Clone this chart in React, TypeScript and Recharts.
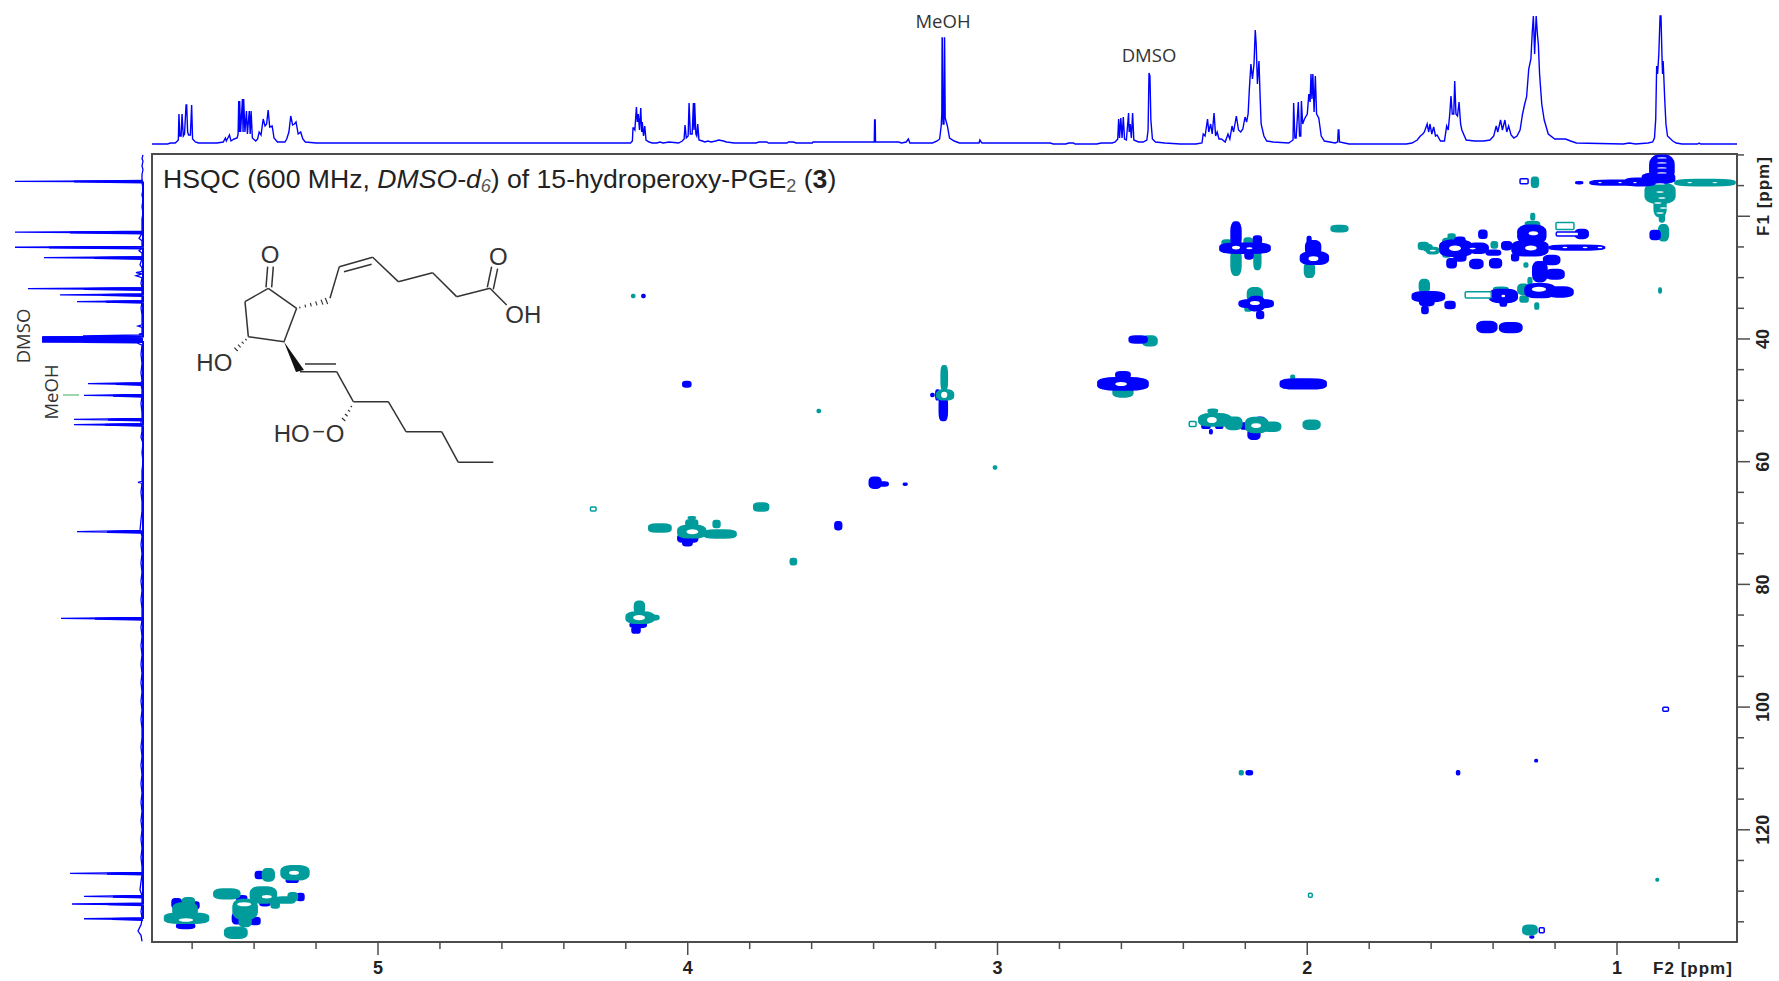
// HSQC spectrum of 15-hydroperoxy-PGE2 with 1H trace on top and 13C trace on the left
import { Line, LineChart, ReferenceArea, Scatter, ScatterChart, XAxis, YAxis } from 'recharts'

const WIDTH = 1779
const HEIGHT = 981
const F2_DOMAIN: [number, number] = [0.6126, 5.7296]
const F1_DOMAIN: [number, number] = [9.85, 138.29]
const PLOT = { left: 152, top: 154, right: 1737, bottom: 942 }
const PX_F2 = (PLOT.right - PLOT.left) / (F2_DOMAIN[1] - F2_DOMAIN[0])
const PX_F1 = (PLOT.bottom - PLOT.top) / (F1_DOMAIN[1] - F1_DOMAIN[0])

const BLUE = '#0000ff'
const TEAL = '#009c9c'

const f2Ticks = [5.6, 5.4, 5.2, 5, 4.8, 4.6, 4.4, 4.2, 4, 3.8, 3.6, 3.4, 3.2, 3, 2.8, 2.6, 2.4, 2.2, 2, 1.8, 1.6, 1.4, 1.2, 1, 0.8]
const f2Labels = [5, 4, 3, 2, 1]
const f1Ticks = [10, 15, 20, 25, 30, 35, 40, 45, 50, 55, 60, 65, 70, 75, 80, 85, 90, 95, 100, 105, 110, 115, 120, 125, 130, 135]
const f1Major = [20, 40, 60, 80, 100, 120]
const f1Labels = [40, 60, 80, 100, 120]

// 1H trace: [ppm, height]
const protonTrace: [number, number][] = [
  [5.73, 0], [5.68, 0], [5.67, 1], [5.655, 1], [5.648, 3], [5.645, 4], [5.643, 30], [5.64, 8], [5.636, 8], [5.633, 30], [5.629, 8], [5.625, 10],
  [5.62, 39], [5.618, 39], [5.615, 12], [5.612, 9], [5.606, 9], [5.602, 39], [5.599, 5], [5.59, 2], [5.58, 1], [5.52, 1], [5.5, 2], [5.493, 6], [5.49, 3],
  [5.48, 9], [5.475, 3], [5.465, 5], [5.455, 6], [5.452, 10], [5.45, 43], [5.448, 12], [5.447, 43], [5.444, 12], [5.438, 45], [5.436, 12], [5.434, 45], [5.43, 12],
  [5.425, 33], [5.422, 10], [5.416, 33], [5.413, 10], [5.41, 33], [5.406, 6], [5.395, 3], [5.389, 5], [5.384, 12], [5.378, 9], [5.371, 25], [5.365, 18],
  [5.36, 20], [5.355, 34], [5.35, 17], [5.342, 18], [5.336, 6], [5.325, 2], [5.301, 2], [5.295, 5], [5.288, 12], [5.282, 28], [5.276, 19], [5.27, 20], [5.265, 22],
  [5.258, 10], [5.25, 12], [5.243, 5], [5.235, 2], [5.2, 1], [4.5, 1], [4.24, 1], [4.185, 1], [4.179, 3], [4.177, 16], [4.175, 16], [4.171, 14], [4.166, 37], [4.163, 22],
  [4.16, 30], [4.156, 14], [4.152, 36], [4.149, 12], [4.147, 22], [4.143, 8], [4.139, 18], [4.135, 4], [4.125, 2], [4.115, 1], [4.1, 1], [4.09, 2], [4.08, 1], [4.06, 2], [4.03, 1],
  [4.018, 3], [4.012, 5], [4.009, 19], [4.005, 6], [3.999, 8], [3.996, 41], [3.992, 10], [3.986, 10], [3.982, 41], [3.98, 14], [3.978, 41], [3.974, 10], [3.971, 8], [3.968, 20],
  [3.964, 4], [3.953, 3], [3.945, 2], [3.935, 3], [3.925, 2], [3.91, 3], [3.9, 4], [3.885, 3], [3.875, 2], [3.85, 1], [3.78, 1], [3.77, 2], [3.745, 2], [3.74, 1], [3.68, 1], [3.675, 2], [3.66, 2], [3.65, 1],
  [3.598, 1], [3.596, 2], [3.398, 2], [3.397, 24], [3.395, 24], [3.394, 2], [3.32, 2], [3.31, 1], [3.295, 2], [3.288, 5], [3.283, 1], [3.26, 1], [3.21, 1], [3.195, 3], [3.187, 5],
  [3.182, 18], [3.18, 30], [3.179, 106], [3.1785, 106], [3.176, 20], [3.173, 20], [3.1715, 106], [3.171, 106], [3.169, 26], [3.162, 18], [3.155, 6], [3.14, 3], [3.123, 1], [3.06, 1], [3.057, 4], [3.053, 2], [3.05, 1],
  [2.83, 1], [2.82, 0], [2.78, 0], [2.77, 1], [2.755, 1], [2.75, 0], [2.68, 0], [2.665, 1], [2.63, 1], [2.62, 2], [2.612, 5], [2.609, 25], [2.606, 6], [2.602, 26], [2.598, 6], [2.594, 27], [2.59, 5], [2.584, 4],
  [2.577, 31], [2.575, 12], [2.572, 20], [2.568, 6], [2.564, 31], [2.56, 4], [2.545, 2], [2.53, 2], [2.518, 4], [2.514, 14], [2.511, 71], [2.508, 68], [2.505, 24], [2.5, 5], [2.49, 2], [2.46, 1], [2.41, 0], [2.36, 0],
  [2.34, 1], [2.336, 10], [2.33, 8], [2.322, 25], [2.318, 12], [2.312, 20], [2.307, 10], [2.301, 31], [2.296, 8], [2.291, 12], [2.285, 5], [2.277, 5], [2.265, 2], [2.256, 10], [2.25, 5], [2.243, 18], [2.238, 12], [2.229, 28], [2.222, 14],
  [2.215, 12], [2.208, 15], [2.201, 27], [2.196, 22], [2.191, 30], [2.187, 55], [2.182, 80], [2.177, 65], [2.172, 80], [2.168, 114], [2.165, 100], [2.161, 60], [2.156, 83], [2.152, 45], [2.149, 20], [2.14, 8], [2.131, 3], [2.11, 2], [2.06, 1],
  [2.046, 4], [2.044, 41], [2.04, 6], [2.036, 6], [2.029, 42], [2.025, 8], [2.021, 8], [2.019, 43], [2.015, 20], [2.009, 25], [2, 30], [1.995, 50], [1.991, 42], [1.988, 70], [1.985, 45], [1.982, 70], [1.978, 32], [1.974, 68], [1.97, 30], [1.963, 26], [1.955, 8], [1.945, 3], [1.91, 1],
  [1.902, 2], [1.9, 14], [1.898, 14], [1.896, 2], [1.88, 1], [1.865, 0], [1.68, 0], [1.662, 1], [1.645, 4], [1.635, 8], [1.627, 10], [1.622, 12], [1.613, 20], [1.608, 12], [1.604, 20], [1.598, 10], [1.592, 17], [1.586, 8], [1.581, 9], [1.57, 3], [1.557, 3],
  [1.55, 18], [1.545, 14], [1.54, 30], [1.536, 48], [1.532, 30], [1.527, 30], [1.524, 63], [1.52, 30], [1.515, 28], [1.51, 42], [1.505, 20], [1.501, 14], [1.487, 4], [1.46, 3], [1.43, 3], [1.41, 4], [1.398, 8],
  [1.39, 18], [1.385, 12], [1.376, 24], [1.37, 14], [1.362, 24], [1.356, 12], [1.35, 18], [1.342, 9], [1.333, 6], [1.323, 8], [1.313, 14], [1.305, 30], [1.298, 40], [1.292, 47], [1.285, 75], [1.278, 85], [1.274, 110],
  [1.27, 128], [1.266, 90], [1.261, 128], [1.257, 110], [1.254, 100], [1.25, 70], [1.243, 40], [1.235, 24], [1.222, 10], [1.201, 5], [1.18, 5], [1.166, 5], [1.15, 3], [1.131, 1], [0.98, 0], [0.96, 1], [0.94, 0], [0.9, 1], [0.885, 2],
  [0.879, 6], [0.875, 25], [0.872, 78], [0.869, 70], [0.865, 90], [0.861, 128], [0.858, 128], [0.855, 90], [0.853, 70], [0.851, 83], [0.846, 45], [0.842, 20], [0.837, 8], [0.82, 3], [0.809, 1], [0.79, 0], [0.74, 0], [0.735, 1], [0.73, 0], [0.6126, 0],
]

// 13C trace: [ppm, height]
const carbonTrace: [number, number][] = [
  [10, 0], [10.6, 1], [11, 0], [11.8, 1], [12.4, 0], [13.2, 1], [14.2, 1], [14.3, 128], [14.4, 1], [15.6, 0], [16.5, 1], [17.4, 0], [18.4, 1], [19.5, 0], [20.4, 1], [21.4, 1],
  [22.45, 1], [22.6, 128], [22.75, 1], [23.6, 4], [24, 1], [24.9, 1], [25.05, 128], [25.2, 1], [25.6, 4], [26, 1], [26.6, 1], [26.75, 99], [26.9, 1], [27.9, 3], [28.4, 1], [29, 1], [29.2, 7], [29.4, 1], [29.7, 7], [30, 1], [30.9, 2],
  [31.65, 1], [31.8, 115], [31.95, 1], [32.65, 1], [32.8, 83], [32.95, 1], [33.75, 1], [33.9, 66], [34.05, 1], [35, 2], [36, 1], [37.7, 1], [37.9, 5], [38.1, 1], [39.1, 1], [39.2, 4], [39.35, 1],
  [39.5, 60], [39.6, 2], [39.65, 100], [39.75, 2], [39.8, 101], [39.9, 2], [39.95, 101], [40.05, 2], [40.1, 101], [40.2, 2], [40.25, 101], [40.35, 2], [40.4, 100], [40.5, 2], [40.55, 60], [40.65, 6], [41, 1], [42.5, 2], [44, 1], [45.5, 2], [46.8, 1],
  [47.1, 2], [47.28, 55], [47.45, 2], [48.2, 1], [49.05, 1], [49.18, 59], [49.3, 1], [50.5, 2], [52, 1], [52.95, 1], [53.09, 69], [53.25, 2], [53.82, 2], [53.97, 69], [54.1, 1], [55, 1], [56, 2], [57, 0], [58.5, 1], [60, 0], [61.5, 1], [63.2, 1], [63.36, 5], [63.5, 1], [65, 2], [66.5, 1], [68, 1], [69.5, 2], [71.2, 3],
  [71.4, 66], [71.55, 2], [72.2, 1], [73.5, 2], [75, 1], [76.5, 2], [78, 1], [79.5, 2], [81, 1], [82.5, 2], [84, 1], [85.38, 1], [85.53, 82], [85.68, 1], [87, 2], [88.5, 1], [90, 2], [91.5, 1], [93, 2], [94.5, 1], [96, 2], [97.5, 1],
  [99, 2], [100.5, 1], [102, 2], [103.5, 1], [105, 1], [106.5, 2], [108, 1], [109.5, 2], [111, 1], [112.5, 2], [114, 1], [115.5, 2], [117, 1], [118.5, 2], [120, 1], [121.5, 2], [123, 1], [124.5, 2], [126, 1], [126.95, 1],
  [127.1, 73], [127.25, 1], [128.5, 2], [129.8, 3], [130.7, 1], [130.85, 59], [131, 1], [131.95, 1], [132.1, 71], [132.25, 1], [133.3, 2], [134.35, 1], [134.5, 59], [134.65, 1], [135.5, 2], [136.5, 5], [137.2, 2], [138.2, 1],
]

// heavier lower part of the 13C lines, the DMSO multiplet is nearly solid
const carbonShoulders: [number, number][] = [
  [14.2, 0], [14.35, 69], [14.5, 0], [22.5, 0], [22.65, 73], [22.8, 0], [24.95, 0], [25.1, 94], [25.25, 0], [26.65, 0], [26.8, 49], [26.95, 0],
  [31.7, 0], [31.85, 59], [32, 0], [32.7, 0], [32.85, 41], [33, 0], [33.8, 0], [33.95, 37], [34.1, 0],
  [39.6, 0], [39.7, 100], [39.78, 100], [39.82, 0], [39.88, 100], [39.95, 100], [40, 0], [40.05, 100], [40.12, 100], [40.17, 0], [40.22, 100], [40.3, 100], [40.35, 0], [40.4, 100], [40.45, 100], [40.5, 0],
  [47.2, 0], [47.35, 27], [47.5, 0], [49.1, 0], [49.25, 30], [49.4, 0], [53, 0], [53.15, 35], [53.3, 0], [53.85, 0], [54, 38], [54.15, 0],
  [71.3, 0], [71.45, 36], [71.6, 0], [85.45, 0], [85.6, 48], [85.75, 0], [127, 0], [127.15, 36], [127.3, 0], [130.75, 0], [130.9, 30], [131.05, 0],
  [132, 0], [132.15, 35], [132.3, 0], [134.4, 0], [134.55, 31], [134.7, 0],
]

// contours: [f2, f1, half width in f2, half height in f1]
type Blob = [number, number, number, number]

const tealUnder: Blob[] = [
  [2.23, 27.4, 0.016, 2.2], [2.161, 27.12, 0.011, 1.55], [2.259, 24.35, 0.016, 0.5], [2.191, 24.19, 0.013, 0.65], [1.993, 28.75, 0.016, 1.2],
  [1.896, 22.02, 0.027, 0.5], [2.169, 32.82, 0.024, 1.15], [2.191, 34.95, 0.01, 0.5], [1.539, 24.14, 0.023, 0.57], [1.534, 23.21, 0.011, 0.33],
  [1.55, 25.98, 0.013, 0.65], [1.625, 24.84, 0.016, 0.57], [1.595, 25.6, 0.019, 0.5], [1.61, 25.16, 0.013, 0.5], [1.396, 24.67, 0.01, 0.5],
  [1.273, 21.41, 0.023, 0.57], [1.272, 20.06, 0.006, 0.5], [1.302, 31.9, 0.018, 0.8], [1.3, 33.48, 0.013, 0.5], [1.259, 34.62, 0.006, 0.5],
  [1.294, 27.94, 0.006, 0.33], [1.281, 30.54, 0.006, 0.5], [1.622, 31.36, 0.016, 1.05], [1.375, 31.9, 0.023, 0.33], [2.595, 48.64, 0.032, 0.8],
  [2.047, 46.24, 0.006, 0.33], [2.508, 40.32, 0.023, 0.8], [0.716, 14.52, 0.097, 0.5], [0.861, 16.25, 0.048, 1.6], [0.861, 18.43, 0.019, 1.6],
  [0.855, 20.27, 0.008, 0.65], [0.85, 22.67, 0.016, 1.3], [1.265, 14.45, 0.011, 0.8], [0.861, 32.09, 0.004, 0.4],
]

const bluePeaks: Blob[] = [
  [2.201, 25.21, 0.081, 0.8], [2.23, 23.04, 0.016, 2.1], [2.161, 23.86, 0.013, 0.65], [2.188, 26.3, 0.013, 0.65], [1.977, 26.84, 0.045, 1],
  [1.981, 25.16, 0.024, 1.15], [1.994, 23.86, 0.006, 0.57], [2.165, 34.24, 0.055, 0.65], [2.165, 34.24, 0.026, 1.15], [2.152, 36.08, 0.011, 0.57],
  [1.52, 25.21, 0.052, 1.3], [1.448, 25.21, 0.032, 0.8], [1.399, 25.93, 0.023, 0.4], [1.507, 23.97, 0.016, 0.57], [1.534, 27.66, 0.015, 0.73],
  [1.507, 26.63, 0.019, 0.65], [1.433, 22.93, 0.013, 0.65], [1.454, 27.77, 0.021, 0.73], [1.392, 27.66, 0.019, 0.73], [1.275, 22.93, 0.045, 1.47],
  [1.281, 25.21, 0.058, 1.22], [1.356, 24.79, 0.016, 0.65], [1.329, 26.68, 0.011, 0.57], [1.13, 25.11, 0.09, 0.4], [1.114, 22.88, 0.021, 0.73],
  [1.249, 29.03, 0.023, 1.63], [1.2, 29.45, 0.029, 0.77], [1.211, 27.12, 0.026, 0.73], [1.249, 32.12, 0.048, 1.14], [1.184, 32.34, 0.042, 0.8],
  [1.609, 33.1, 0.052, 0.8], [1.614, 33.92, 0.023, 0.65], [1.62, 35.27, 0.01, 0.57], [1.539, 34.45, 0.016, 0.57], [1.367, 32.99, 0.045, 1.06],
  [1.367, 34.13, 0.01, 0.5], [1.42, 38.04, 0.032, 0.9], [1.343, 38.15, 0.036, 0.8], [0.855, 12.17, 0.039, 2.1], [0.866, 13.8, 0.052, 0.8],
  [0.99, 14.52, 0.097, 0.4], [0.925, 14.41, 0.048, 0.6], [1.122, 14.52, 0.011, 0.16], [0.877, 23.04, 0.016, 0.73], [2.546, 40.08, 0.029, 0.57],
  [2.595, 47.33, 0.081, 1], [2.595, 45.86, 0.023, 0.5], [2.013, 47.33, 0.074, 0.8], [4.003, 47.38, 0.013, 0.44], [3.193, 49.12, 0.006, 0.8],
  [3.21, 49.12, 0.005, 0.25], [3.175, 51.29, 0.013, 2], [3.395, 63.42, 0.019, 0.9], [3.369, 63.63, 0.016, 0.33], [3.298, 63.68, 0.006, 0.16],
  [3.514, 70.43, 0.011, 0.65], [4, 72.48, 0.032, 0.65], [4.001, 73.2, 0.015, 0.5], [4.16, 86.61, 0.026, 0.4], [4.167, 87.43, 0.013, 0.5],
  [2.327, 54.23, 0.013, 0.33], [2.284, 54.23, 0.011, 0.33], [2.311, 55.11, 0.004, 0.33], [2.204, 54.18, 0.01, 0.5], [2.152, 53.09, 0.013, 0.33],
  [2.172, 55.53, 0.019, 0.8], [5.65, 131.98, 0.015, 0.73], [5.589, 132.3, 0.011, 0.54], [5.623, 133.72, 0.01, 0.33], [5.621, 135.68, 0.029, 0.4],
  [5.575, 134.86, 0.009, 0.2], [5.44, 131.16, 0.016, 0.4], [5.454, 134.42, 0.016, 0.9], [5.397, 134.86, 0.016, 0.57], [5.365, 131.98, 0.016, 0.4],
  [5.383, 127.36, 0.013, 0.57], [5.277, 128.29, 0.019, 0.28], [5.25, 130.95, 0.011, 0.57], [1.275, 137.47, 0.006, 0.16], [2.187, 110.69, 0.01, 0.33],
  [1.513, 110.69, 0.005, 0.33], [4.143, 32.99, 0.005, 0.25], [1.261, 108.73, 0.004, 0.2],
]

const tealOver: Blob[] = [
  [3.169, 49.12, 0.027, 0.8], [3.172, 46.35, 0.01, 2], [3.763, 67.38, 0.024, 0.65], [4.09, 70.8, 0.036, 0.65], [3.987, 71.41, 0.045, 1],
  [3.896, 71.78, 0.052, 0.65], [3.987, 70.04, 0.019, 0.57], [3.987, 69.12, 0.011, 0.16], [3.907, 70.15, 0.011, 0.57], [3.659, 76.3, 0.01, 0.5],
  [4.154, 85.42, 0.045, 0.9], [4.116, 85.42, 0.023, 0.4], [4.156, 83.73, 0.016, 1], [2.298, 53.2, 0.052, 1], [2.238, 53.74, 0.027, 1],
  [2.305, 51.73, 0.015, 0.28], [2.163, 54.01, 0.036, 1.22], [2.115, 54.29, 0.029, 0.73], [1.986, 53.97, 0.027, 0.73], [5.618, 134.42, 0.071, 0.8],
  [5.623, 133.07, 0.039, 1.14], [5.612, 131.72, 0.019, 0.65], [5.488, 130.46, 0.042, 0.8], [5.429, 132.95, 0.039, 1.6], [5.37, 130.62, 0.042, 1.3],
  [5.429, 134.97, 0.019, 0.8], [5.459, 136.77, 0.036, 0.9], [5.354, 127.36, 0.019, 1], [5.268, 126.99, 0.045, 1.14], [5.3, 131.44, 0.032, 0.5],
  [5.275, 130.9, 0.015, 0.65], [5.332, 132.25, 0.013, 0.5], [1.281, 136.33, 0.023, 0.77], [0.87, 128.13, 0.004, 0.2], [3.008, 60.94, 0.005, 0.25],
  [3.577, 51.73, 0.005, 0.25], [2.213, 110.69, 0.006, 0.33], [4.176, 32.99, 0.005, 0.25],
]

// blobs that show only as a thin outline
const tealRings: Blob[] = [
  [1.448, 32.82, 0.042, 0.5], [1.168, 21.58, 0.029, 0.57], [4.305, 67.71, 0.009, 0.33], [1.99, 130.66, 0.006, 0.33], [2.37, 53.85, 0.011, 0.4],
]
const blueRings: Blob[] = [
  [1.16, 22.88, 0.036, 0.33], [1.3, 14.29, 0.013, 0.4], [0.843, 100.35, 0.009, 0.33], [1.243, 136.38, 0.008, 0.4],
]

// white centres of the strongest contours
const contourHoles: Blob[] = [
  [2.23, 25.11, 0.013, 0.3], [2.187, 25.21, 0.01, 0.16], [1.98, 26.91, 0.016, 0.38], [2.169, 34.13, 0.016, 0.33], [1.523, 25.21, 0.019, 0.44],
  [1.466, 25.27, 0.01, 0.13], [1.27, 22.77, 0.015, 0.33], [1.278, 25.16, 0.019, 0.4], [1.252, 31.9, 0.023, 0.4], [1.367, 32.99, 0.006, 0.2],
  [1.595, 25.6, 0.01, 0.13], [2.601, 47.33, 0.019, 0.33], [3.172, 49.12, 0.01, 0.5], [3.985, 71.41, 0.019, 0.4], [4.157, 85.42, 0.019, 0.44],
  [2.308, 53.2, 0.016, 0.5], [2.165, 54.12, 0.016, 0.4], [5.62, 134.7, 0.023, 0.28], [5.432, 132.14, 0.023, 0.33], [5.359, 130.9, 0.016, 0.28],
  [5.271, 126.99, 0.016, 0.33], [0.855, 10.49, 0.016, 0.1], [0.855, 11.31, 0.016, 0.1], [0.855, 12.12, 0.016, 0.1], [0.855, 12.94, 0.016, 0.1],
  [0.861, 16.04, 0.012, 0.12], [0.855, 17.01, 0.012, 0.12], [0.868, 17.83, 0.012, 0.12], [0.85, 18.64, 0.012, 0.12], [0.861, 19.46, 0.012, 0.12],
  [0.861, 14.73, 0.016, 0.1], [1.055, 14.5, 0.006, 0.1], [0.99, 14.5, 0.006, 0.1], [0.942, 14.5, 0.006, 0.1], [0.765, 14.5, 0.008, 0.1],
  [0.684, 14.5, 0.008, 0.1], [1.168, 25.1, 0.008, 0.12], [1.103, 25.1, 0.008, 0.12], [1.055, 25.1, 0.008, 0.12],
]

const toRows = (blobs: Blob[]) => blobs.map(([f2, f1, hw, hh]) => ({ f2, f1, hw, hh }))

// blocky rounded shape, the contours in the picture are pixel-thick and squarish
const blobShape = (fill: string) => (props: any) => {
  const { cx, cy, payload } = props
  const w = payload.hw * PX_F2
  const h = payload.hh * PX_F1
  return <rect x={cx - w} y={cy - h} width={w * 2} height={h * 2} rx={w * 0.7} ry={h * 0.7} fill={fill} stroke={fill} strokeWidth={1.5} />
}

const holeShape = (props: any) => {
  const { cx, cy, payload } = props
  return <ellipse cx={cx} cy={cy} rx={payload.hw * PX_F2} ry={payload.hh * PX_F1} fill="white" />
}

const ringShape = (stroke: string) => (props: any) => {
  const { cx, cy, payload } = props
  const w = payload.hw * PX_F2
  const h = payload.hh * PX_F1
  return <rect x={cx - w} y={cy - h} width={w * 2} height={h * 2} rx={1} fill="white" stroke={stroke} strokeWidth={1.5} />
}

const F2Tick = (props: any) => {
  const { x, y, payload } = props
  const major = f2Labels.includes(payload.value)
  return (
    <g>
      <line x1={x} x2={x} y1={y} y2={y + (major ? 13 : 7)} stroke="#4d4d4d" strokeWidth={1.5} />
      {major && (
        <text x={x} y={y + 32} textAnchor="middle" fontFamily="Liberation Sans" fontWeight={700} fontSize={18} fill="#222">
          {payload.value}
        </text>
      )}
    </g>
  )
}

const F1Tick = (props: any) => {
  const { x, y, payload } = props
  const major = f1Major.includes(payload.value)
  const tx = x + 32
  return (
    <g>
      <line x1={x} x2={x + (major ? 13 : 7)} y1={y} y2={y} stroke="#4d4d4d" strokeWidth={1.5} />
      {f1Labels.includes(payload.value) && (
        <text x={tx} y={y} transform={`rotate(-90 ${tx} ${y})`} textAnchor="middle" fontFamily="Liberation Sans" fontWeight={700} fontSize={18} fill="#222">
          {payload.value}
        </text>
      )}
    </g>
  )
}

// peroxide structure, drawn in 3x units and scaled down
const bonds = [
  [385, 355, 315, 395], [315, 395, 325, 500], [325, 500, 432, 515], [432, 515, 470, 415], [470, 415, 385, 355],
  [378, 352, 383, 290], [395, 352, 400, 290], [570, 385, 598, 290], [598, 290, 698, 262], [612, 305, 695, 283],
  [698, 262, 775, 335], [775, 335, 878, 308], [878, 308, 950, 380], [950, 380, 1050, 355], [1042, 352, 1055, 290],
  [1060, 358, 1073, 296], [1050, 355, 1100, 405], [480, 605, 590, 605], [495, 582, 588, 582], [590, 605, 640, 695],
  [640, 695, 745, 695], [745, 695, 798, 785], [798, 785, 905, 785], [905, 785, 955, 877], [955, 877, 1060, 877], [520, 785, 552, 785],
]
const hashes = [
  [480, 410, 479, 415], [495, 404, 497, 412], [511, 399, 514, 409], [527, 394, 531, 406], [543, 389, 549, 404], [556, 384, 563, 402],
  [316, 507, 320, 511], [305, 515, 311, 521], [294, 524, 302, 532], [283, 533, 293, 543], [632, 708, 636, 711], [624, 720, 630, 725], [615, 732, 623, 739], [606, 744, 616, 753],
]
const atomLabels = [
  { x: 390, y: 280, t: 'O' }, { x: 1075, y: 284, t: 'O' }, { x: 1150, y: 458, t: 'OH' }, { x: 223, y: 603, t: 'HO' }, { x: 455, y: 815, t: 'HO' }, { x: 585, y: 815, t: 'O' },
]

function Structure() {
  return (
    <g transform="translate(140 170) scale(0.3333)">
      {bonds.map((b, i) => <line key={i} x1={b[0]} y1={b[1]} x2={b[2]} y2={b[3]} stroke="#333" strokeWidth={4.5} />)}
      {hashes.map((b, i) => <line key={i} x1={b[0]} y1={b[1]} x2={b[2]} y2={b[3]} stroke="#333" strokeWidth={3.5} />)}
      <polygon points="432,515 468,606 492,600" fill="#111" />
      {atomLabels.map((a, i) => (
        <text key={i} x={a.x} y={a.y} textAnchor="middle" fontFamily="Liberation Sans" fontSize={72} fill="#333">{a.t}</text>
      ))}
    </g>
  )
}

function Overlay() {
  return (
    <svg width={WIDTH} height={HEIGHT} style={{ position: 'absolute', left: 0, top: 0, pointerEvents: 'none' }}>
      <text x={163} y={188} fontFamily="Liberation Sans" fontSize={26.6} fill="#222">
        HSQC (600 MHz, <tspan fontStyle="italic">DMSO-d</tspan>
        <tspan fontStyle="italic" fontSize={18} dy={4} fill="#555">6</tspan>
        <tspan dy={-4}>) of 15-hydroperoxy-PGE</tspan>
        <tspan fontSize={18} dy={4} fill="#555">2</tspan>
        <tspan dy={-4}> (</tspan>
        <tspan fontWeight={700}>3</tspan>)
      </text>
      <Structure />
      <text x={943} y={28} textAnchor="middle" fontFamily="Open Sans" fontSize={18.5} fill="#333">MeOH</text>
      <text x={1149} y={62} textAnchor="middle" fontFamily="Open Sans" fontSize={18.5} fill="#333">DMSO</text>
      <text x={30} y={336} transform="rotate(-90 30 336)" textAnchor="middle" fontFamily="Open Sans" fontSize={18.5} fill="#333">DMSO</text>
      <text x={58} y={392} transform="rotate(-90 58 392)" textAnchor="middle" fontFamily="Open Sans" fontSize={18.5} fill="#333">MeOH</text>
      <line x1={63} x2={79} y1={395} y2={395} stroke="#5cba7d" strokeWidth={1.2} />
      <text x={1769} y={196} transform="rotate(-90 1769 196)" textAnchor="middle" fontFamily="Liberation Sans" fontWeight={700} fontSize={17} letterSpacing={1} fill="#222">F1 [ppm]</text>
      <text x={1693} y={974} textAnchor="middle" fontFamily="Liberation Sans" fontWeight={700} fontSize={17} letterSpacing={1} fill="#222">F2 [ppm]</text>
    </svg>
  )
}

export default function App() {
  const protonData = protonTrace.map(([ppm, h]) => ({ ppm, h }))
  const carbonData = carbonTrace.map(([ppm, h]) => ({ ppm, h }))
  const shoulderData = carbonShoulders.map(([ppm, h]) => ({ ppm, h }))

  return (
    <div style={{ position: 'absolute', left: 0, top: 0, width: WIDTH, height: HEIGHT, background: 'white', overflow: 'hidden' }}>
      {/* 1H trace above the plot */}
      <div style={{ position: 'absolute', left: 0, top: 0 }}>
        <LineChart width={WIDTH} height={150} data={protonData} margin={{ top: 15, left: PLOT.left, right: WIDTH - PLOT.right, bottom: 6 }}>
          <XAxis dataKey="ppm" type="number" domain={F2_DOMAIN} reversed hide />
          <YAxis type="number" domain={[0, 129]} hide />
          <Line dataKey="h" stroke={BLUE} strokeWidth={1.4} dot={false} isAnimationActive={false} />
        </LineChart>
      </div>

      {/* 13C trace left of the plot */}
      <div style={{ position: 'absolute', left: 0, top: 0 }}>
        <LineChart layout="vertical" width={150} height={HEIGHT} margin={{ top: PLOT.top, left: 14, right: 7, bottom: HEIGHT - PLOT.bottom }}>
          <XAxis type="number" domain={[0, 129]} reversed hide />
          {/* the vertical layout already runs top to bottom */}
          <YAxis dataKey="ppm" type="number" domain={F1_DOMAIN} hide />
          <Line data={carbonData} dataKey="h" stroke={BLUE} strokeWidth={1.3} dot={false} isAnimationActive={false} />
          <Line data={shoulderData} dataKey="h" stroke={BLUE} strokeWidth={2} dot={false} isAnimationActive={false} />
        </LineChart>
      </div>

      {/* contour plot */}
      <div style={{ position: 'absolute', left: 0, top: 0 }}>
        <ScatterChart width={WIDTH} height={HEIGHT} margin={{ top: PLOT.top, left: PLOT.left, right: 0, bottom: 0 }}>
          <XAxis dataKey="f2" type="number" domain={F2_DOMAIN} reversed height={HEIGHT - PLOT.bottom} ticks={f2Ticks} interval={0}
            tick={<F2Tick />} tickLine={false} tickSize={0} tickMargin={0} allowDataOverflow axisLine={{ stroke: '#4d4d4d', strokeWidth: 2 }} />
          <YAxis dataKey="f1" type="number" domain={F1_DOMAIN} reversed orientation="right" width={WIDTH - PLOT.right} ticks={f1Ticks} interval={0}
            tick={<F1Tick />} tickLine={false} tickSize={0} tickMargin={0} allowDataOverflow axisLine={{ stroke: '#4d4d4d', strokeWidth: 2 }} />
          <ReferenceArea x1={F2_DOMAIN[1]} x2={F2_DOMAIN[0]} y1={F1_DOMAIN[0]} y2={F1_DOMAIN[1]} fill="none" stroke="#4d4d4d" strokeWidth={2} fillOpacity={0} />
          <Scatter data={toRows(tealUnder)} shape={blobShape(TEAL)} isAnimationActive={false} />
          <Scatter data={toRows(bluePeaks)} shape={blobShape(BLUE)} isAnimationActive={false} />
          <Scatter data={toRows(tealOver)} shape={blobShape(TEAL)} isAnimationActive={false} />
          <Scatter data={toRows(tealRings)} shape={ringShape(TEAL)} isAnimationActive={false} />
          <Scatter data={toRows(blueRings)} shape={ringShape(BLUE)} isAnimationActive={false} />
          <Scatter data={toRows(contourHoles)} shape={holeShape} isAnimationActive={false} />
        </ScatterChart>
      </div>

      <Overlay />
    </div>
  )
}
